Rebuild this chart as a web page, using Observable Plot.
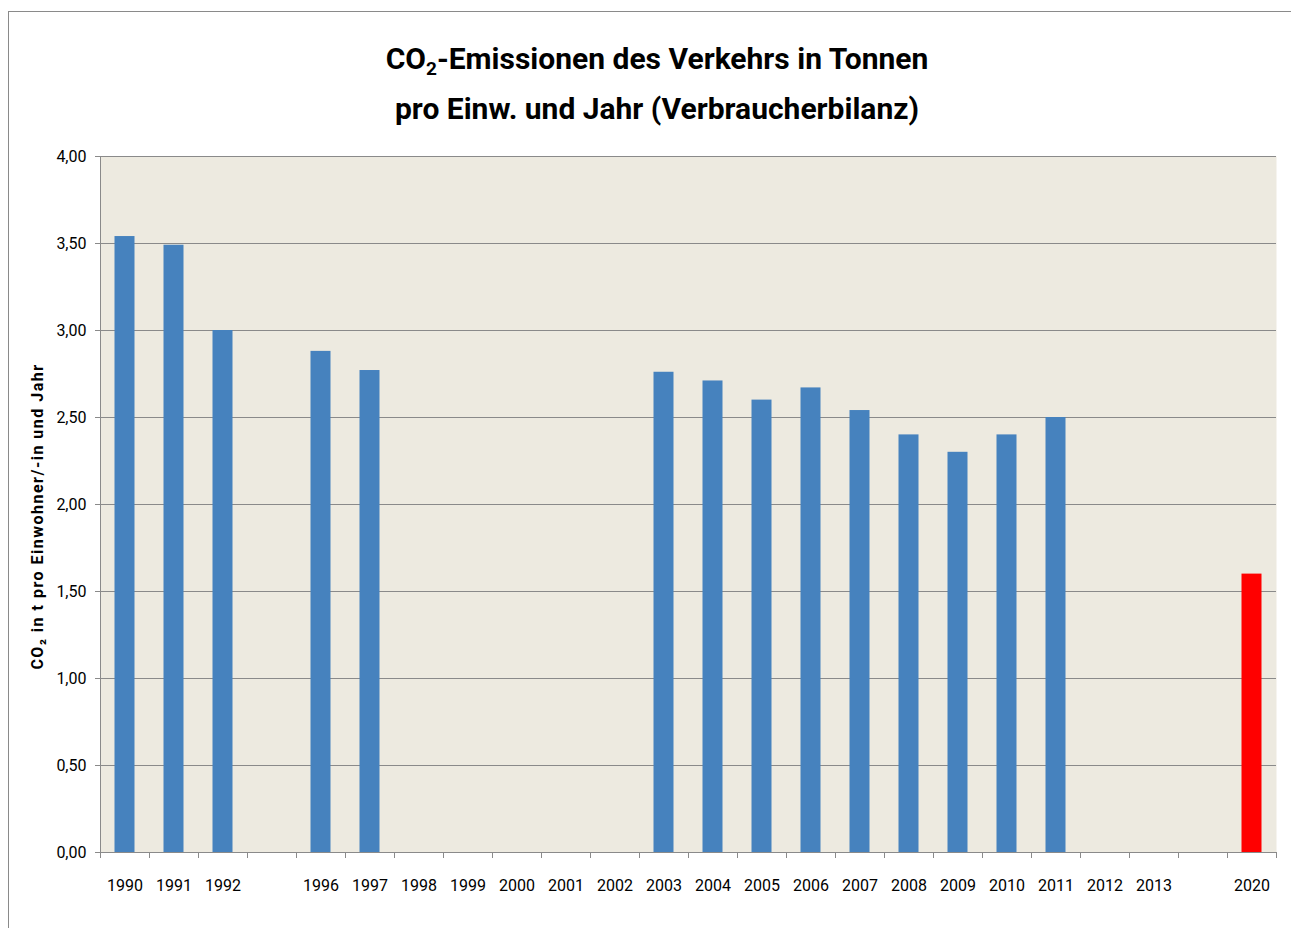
<!DOCTYPE html>
<html>
<head>
<meta charset="utf-8">
<script src="https://cdn.jsdelivr.net/npm/d3@7"></script>
<script src="https://cdn.jsdelivr.net/npm/@observablehq/plot@0.6"></script>
<style>
  html, body { margin: 0; padding: 0; background: #fff; }
  body { width: 1291px; height: 928px; position: relative; overflow: hidden;
         font-family: Roboto, sans-serif; }
  #frame { position: absolute; left: 8px; top: 11px; width: 1282px; height: 940px;
           border-top: 1px solid #8a8a8a; border-left: 1px solid #8a8a8a; border-right: 1px solid #8a8a8a; }
  #title { position: absolute; left: 0; top: 34px; width: 1314px; text-align: center;
           font-weight: bold; font-size: 30px; line-height: 50px; color: #000; }
  #title sub { font-size: 19px; vertical-align: -6px; line-height: 0; }
  #chart { position: absolute; left: 0; top: 140px; }
</style>
</head>
<body>
<div id="frame"></div>
<div id="title">CO<sub>2</sub>-Emissionen des Verkehrs in Tonnen<br>pro Einw. und Jahr (Verbraucherbilanz)</div>
<div id="chart"></div>
<script>
// Categories (blank slots keep the gaps of the original axis)
const categories = ["1990","1991","1992"," ","1996","1997","1998","1999","2000","2001","2002","2003","2004","2005","2006","2007","2008","2009","2010","2011","2012","2013","  ","2020"];
// Values in t CO2 per inhabitant and year
const years  = ["1990","1991","1992","1996","1997","2003","2004","2005","2006","2007","2008","2009","2010","2011","2020"];
const values = [3.54, 3.49, 3.00, 2.88, 2.77, 2.76, 2.71, 2.60, 2.67, 2.54, 2.40, 2.30, 2.40, 2.50, 1.60];
const targetYears = ["2020"];
const yTicks = [0, 0.5, 1, 1.5, 2, 2.5, 3, 3.5, 4];

const data = years.map((y, i) => ({year: y, value: values[i], target: targetYears.includes(y)}));
const fmt = d => d.toFixed(2).replace(".", ",");

const W = 1291, H = 788, mL = 100, mR = 15, mT = 16, mB = 76;
const step = (W - mL - mR) / categories.length;

const chart = Plot.plot({
  width: W, height: H,
  marginLeft: mL, marginRight: mR, marginTop: mT, marginBottom: mB,
  style: {fontFamily: 'Roboto, sans-serif', fontSize: "16px", color: "#000", background: "transparent"},
  x: {domain: categories, padding: 0, label: null},
  y: {domain: [0, 4], label: null},
  marks: [
    Plot.frame({fill: "#EDEAE0", stroke: null}),
    Plot.gridY(yTicks, {stroke: "#8a8a8a", strokeOpacity: 1, strokeWidth: 1}),
    Plot.barY(data, {x: "year", y: "value", fill: d => d.target ? "#FF0000" : "#4682BE",
      insetLeft: (step - 20) / 2, insetRight: (step - 20) / 2}),
    Plot.ruleY([0], {stroke: "#8a8a8a"}),
    Plot.ruleX(categories, {x: d => d, y1: 0, y2: 0, dx: -step / 2, insetBottom: -6, stroke: "#8a8a8a"}),
    Plot.ruleX(categories.slice(-1), {x: d => d, y1: 0, y2: 0, dx: step / 2, insetBottom: -6, stroke: "#8a8a8a"}),
    Plot.ruleX([categories[0]], {x: d => d, y1: 0, y2: 4, dx: -step / 2, stroke: "#8a8a8a"}),
    Plot.axisY({ticks: yTicks, tickFormat: fmt, tickSize: 5, tickPadding: 9, stroke: "#8a8a8a", label: null, fontSize: 16}),
    Plot.axisX({tickSize: 0, tickPadding: 27, label: null, fontSize: 16}),
    Plot.text(["CO₂ in t pro Einwohner/-in und Jahr"], {
      frameAnchor: "left", dx: -63, dy: 12, rotate: -90, textAnchor: "middle", fontWeight: "bold", fontSize: 16
    })
  ]
});
// widen the letter spacing of the vertical axis title like the original
chart.querySelectorAll("text").forEach(t => {
  if (t.textContent.startsWith("CO₂")) t.setAttribute("letter-spacing", "1.5px");
});
document.getElementById("chart").appendChild(chart);
</script>
</body>
</html>
